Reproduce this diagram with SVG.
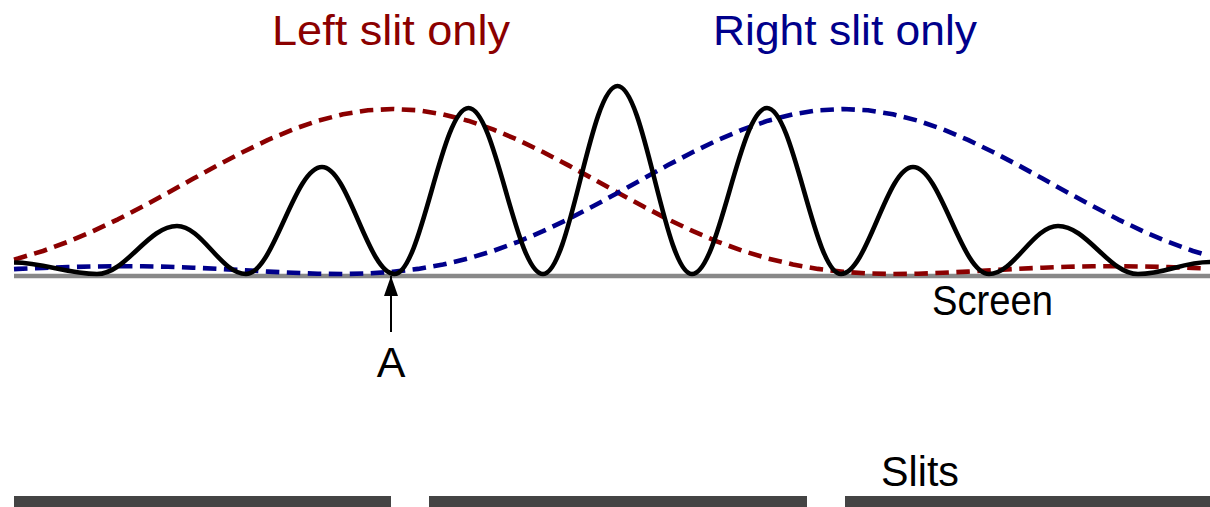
<svg xmlns="http://www.w3.org/2000/svg" width="1210" height="507" viewBox="0 0 1210 507">
<style>
.lbl{font-family:"Liberation Sans",Arial,sans-serif;font-size:43px}
.curve{fill:none;stroke-width:4.6;stroke-linejoin:round}
.dash{stroke-dasharray:13.5 7.5}
.bar{fill:#444444}
</style>
<defs>
<marker id="ah" viewBox="0 0 20 14" refX="20" refY="7" markerWidth="20" markerHeight="14" markerUnits="userSpaceOnUse" orient="auto">
<path d="M0,0 L20,7 L0,14 Z" fill="#000"/>
</marker>
</defs>
<rect width="1210" height="507" fill="#fff"/>
<g id="screen">
<line x1="14" y1="276" x2="1210" y2="276" stroke="#888888" stroke-width="4.5"/>
</g>
<g id="left-slit-curve">
<path class="curve dash" stroke="#8B0000" d="M14,259.6 L18,258.5 L43,251 L68,241.8 L93,231.2 L118,219.3 L143,206.3 L168,192.7 L193,178.8 L218,165.1 L243,152 L268,139.9 L293,129.4 L318,120.7 L343,114.3 L368,110.3 L393,109 L418,110.3 L443,114.3 L468,120.7 L493,129.4 L518,139.9 L543,152 L568,165.1 L593,178.8 L618,192.7 L643,206.3 L668,219.3 L693,231.2 L718,241.8 L743,251 L768,258.5 L793,264.5 L818,268.9 L843,271.8 L868,273.4 L893,274 L918,273.7 L943,272.8 L968,271.6 L993,270.2 L1018,268.8 L1043,267.7 L1068,266.8 L1093,266.3 L1118,266.2 L1143,266.5 L1168,267.1 L1193,267.9 L1206,268.4"/>
</g>
<g id="right-slit-curve">
<path class="curve dash" stroke="#00008B" d="M14,269.1 L18,268.9 L43,267.9 L68,267.1 L93,266.5 L118,266.2 L143,266.3 L168,266.8 L193,267.7 L218,268.8 L243,270.2 L268,271.6 L293,272.8 L318,273.7 L343,274 L368,273.4 L393,271.8 L418,268.9 L443,264.5 L468,258.5 L493,251 L518,241.8 L543,231.2 L568,219.3 L593,206.3 L618,192.7 L643,178.8 L668,165.1 L693,152 L718,139.9 L743,129.4 L768,120.7 L793,114.3 L818,110.3 L843,109 L868,110.3 L893,114.3 L918,120.7 L943,129.4 L968,139.9 L993,152 L1018,165.1 L1043,178.8 L1068,192.7 L1093,206.3 L1118,219.3 L1143,231.2 L1168,241.8 L1193,251 L1206,254.9"/>
</g>
<g id="interference-curve">
<path class="curve" stroke="#000" d="M14,262.5 C44,262.5 67,274 97,274 C126,274 148,226 177,226 C202,226 221,274 246,274 C273.6,274 294.4,167 322,167 C348.3,167 368.2,274 394.5,274 C421.4,274 441.6,108 468.5,108 C495.6,108 515.9,274 543,274 C570.1,274 590.4,86 617.5,86 C644.6,86 664.9,274 692,274 C719.3,274 739.7,108 767,108 C793.9,108 814.1,274 841,274 C867.2,274 886.8,167 913,167 C940.6,167 961.4,274 989,274 C1014,274 1033,226 1058,226 C1087,226 1109,274 1138,274 C1166,274 1182,262 1210,262"/>
</g>
<g id="connectors">
<line x1="391" y1="332" x2="391" y2="276" stroke="#000" stroke-width="2" marker-end="url(#ah)"/>
</g>
<g id="slits">
<rect class="bar" x="14" y="496" width="377" height="11"/>
<rect class="bar" x="429" y="496" width="378" height="11"/>
<rect class="bar" x="845" y="496" width="365" height="11"/>
</g>
<g id="label-left"><text class="lbl" x="272" y="44.5" fill="#8B0000" textLength="238" lengthAdjust="spacingAndGlyphs">Left slit only</text></g>
<g id="label-right"><text class="lbl" x="713" y="44.5" fill="#00008B" textLength="264" lengthAdjust="spacingAndGlyphs">Right slit only</text></g>
<g id="label-screen"><text class="lbl" x="932" y="315" fill="#000" textLength="121" lengthAdjust="spacingAndGlyphs">Screen</text></g>
<g id="label-a"><text class="lbl" x="391" y="377" fill="#000" text-anchor="middle">A</text></g>
<g id="label-slits"><text class="lbl" x="881" y="486" fill="#000" textLength="78" lengthAdjust="spacingAndGlyphs">Slits</text></g>
</svg>
